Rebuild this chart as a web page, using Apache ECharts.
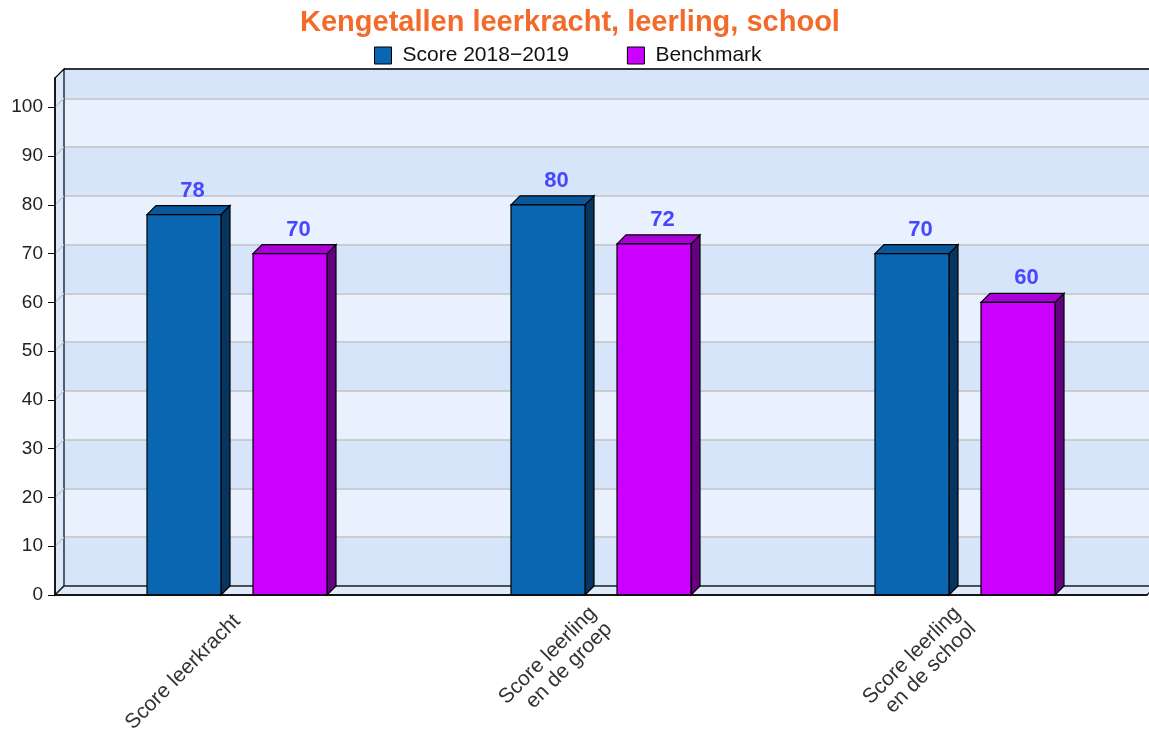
<!DOCTYPE html>
<html>
<head>
<meta charset="utf-8">
<title>Kengetallen leerkracht, leerling, school</title>
<script src="https://cdn.jsdelivr.net/npm/echarts@6/dist/echarts.min.js"></script>
<style>
  html, body { margin: 0; padding: 0; background: #fff; }
  #chart { width: 1149px; height: 731px; }
</style>
</head>
<body>
<div id="chart"></div>
<script>
const categories = ['Score leerkracht', 'Score leerling\nen de groep', 'Score leerling\nen de school']
const scoreValues = [78, 80, 70]
const benchmarkValues = [70, 72, 60]
const yTicks = [0, 10, 20, 30, 40, 50, 60, 70, 80, 90, 100]

const DEPTH = 9 // 3d offset of the back wall
const FONT = '"Liberation Sans", Arial, sans-serif'

const barStyles = [
  { name: 'Score 2018\u22122019', values: scoreValues, front: '#0b66b2', top: '#0a589c', side: '#06365f', offset: -53 / 364 },
  { name: 'Benchmark', values: benchmarkValues, front: '#cc00ff', top: '#a900d6', side: '#650080', offset: 53 / 364 }
]

function barRenderer(s) {
  return function (params, api) {
    const cat = api.value(0)
    const val = api.value(1)
    const band = api.size([1, 0])[0]
    const w = band * 74 / 364
    const top = api.coord([cat, val])
    const base = api.coord([cat, 0])
    const cx = top[0] + band * s.offset
    const x0 = cx - w / 2
    const x1 = cx + w / 2
    const y = top[1]
    const y0 = base[1]
    const d = DEPTH
    return {
      type: 'group',
      children: [
        { type: 'polygon', shape: { points: [[x1, y], [x1 + d, y - d], [x1 + d, y0 - d], [x1, y0]] },
          style: { fill: s.side, stroke: '#000', lineWidth: 1.2 } },
        { type: 'polygon', shape: { points: [[x0, y], [x0 + d, y - d], [x1 + d, y - d], [x1, y]] },
          style: { fill: s.top, stroke: '#000', lineWidth: 1.2 } },
        { type: 'rect', shape: { x: x0, y: y, width: w, height: y0 - y },
          style: { fill: s.front, stroke: '#000', lineWidth: 1.2 } },
        { type: 'text', style: { text: String(val), x: cx + 8.5, y: y - d - 4, align: 'center', verticalAlign: 'bottom',
          fill: '#4747ff', font: 'bold 22px ' + FONT } }
      ]
    }
  }
}

// left wall, floor and frame of the 3d box
function frameRenderer(params, api) {
  const cs = params.coordSys
  const d = DEPTH
  const xl = cs.x
  const xr = cs.x + cs.width
  const yt = cs.y
  const yb = cs.y + cs.height
  const ty = api.coord([0, api.value(1)])[1]
  const children = []
  if (params.dataIndex === 0) {
    children.push(
      { type: 'polygon', z2: 0, shape: { points: [[xl, yb], [xl, yt], [xl + d, yt - d], [xl + d, yb - d]] },
        style: { fill: '#dbe7fb', stroke: '#000', lineWidth: 1.2 } },
      { type: 'polygon', z2: 0, shape: { points: [[xl, yb], [xl + d, yb - d], [xr + d, yb - d], [xr, yb]] },
        style: { fill: '#dfeafc', stroke: '#222', lineWidth: 1.5 } },
      { type: 'line', z2: 2, shape: { x1: xl + d, y1: yt - d, x2: xr + d, y2: yt - d },
        style: { stroke: '#000', lineWidth: 1.5 } }
    )
  }
  if (params.dataIndex > 0) {
    children.push({ type: 'line', z2: 1, shape: { x1: xl, y1: ty, x2: xl + d, y2: ty - d },
      style: { stroke: '#c4c4c4', lineWidth: 1.2 } })
  }
  return { type: 'group', children: children }
}

const chart = echarts.init(document.getElementById('chart'))

const option = {
  animation: false,
  backgroundColor: '#fff',
  title: {
    text: 'Kengetallen leerkracht, leerling, school',
    left: 300,
    top: 8,
    padding: 0,
    textStyle: { color: '#f36b2b', fontSize: 29, fontWeight: 'bold', fontFamily: FONT }
  },
  legend: {
    left: 374,
    top: 45,
    padding: 0,
    itemWidth: 17,
    itemHeight: 17,
    itemGap: 58,
    textStyle: { fontSize: 21, color: '#111', fontFamily: FONT, padding: [0, 0, 0, 6] },
    data: barStyles.map(s => ({
      name: s.name,
      icon: 'rect',
      itemStyle: { color: s.front, borderColor: '#000', borderWidth: 1 }
    }))
  },
  grid: [
    { left: 55 + DEPTH, top: 78 - DEPTH, width: 1092, height: 517, outerBoundsMode: 'none' },
    { left: 55, top: 78, width: 1092, height: 517, outerBoundsMode: 'none' }
  ],
  xAxis: [
    { gridIndex: 0, type: 'category', data: categories, show: false },
    {
      gridIndex: 1,
      type: 'category',
      data: categories,
      z: 10,
      axisLine: { lineStyle: { color: '#000', width: 1.5 } },
      axisTick: { alignWithLabel: true, length: 6, lineStyle: { color: '#333' } },
      axisLabel: { interval: 0, rotate: 45, margin: 23, fontSize: 21, lineHeight: 22, color: '#333', fontFamily: FONT },
      splitLine: { show: false }
    }
  ],
  yAxis: [
    {
      gridIndex: 0,
      type: 'value',
      min: 0,
      max: 106,
      interval: 10,
      axisLine: { show: false },
      axisTick: { show: false },
      axisLabel: { show: false },
      splitLine: { show: true, lineStyle: { color: '#c2c2c2', width: 1.5 } },
      splitArea: { show: true, areaStyle: { color: ['#d7e5fb', '#e9f1fe'] } }
    },
    {
      gridIndex: 1,
      type: 'value',
      min: 0,
      max: 106,
      interval: 10,
      z: 10,
      axisLine: { show: true, lineStyle: { color: '#000', width: 1.5 } },
      axisTick: { show: true, length: 7, customValues: yTicks, lineStyle: { color: '#000' } },
      axisLabel: { margin: 12, customValues: yTicks, fontSize: 19, color: '#222', fontFamily: FONT },
      splitLine: { show: false }
    }
  ],
  series: [
    {
      type: 'custom',
      name: 'frame',
      xAxisIndex: 1,
      yAxisIndex: 1,
      z: 1,
      silent: true,
      renderItem: frameRenderer,
      data: yTicks.map(v => [0, v])
    }
  ].concat(barStyles.map(s => ({
    type: 'custom',
    name: s.name,
    xAxisIndex: 1,
    yAxisIndex: 1,
    z: 3,
    itemStyle: { color: s.front },
    renderItem: barRenderer(s),
    encode: { x: 0, y: 1 },
    data: s.values.map((v, i) => [i, v])
  })))
}

chart.setOption(option)
</script>
</body>
</html>
